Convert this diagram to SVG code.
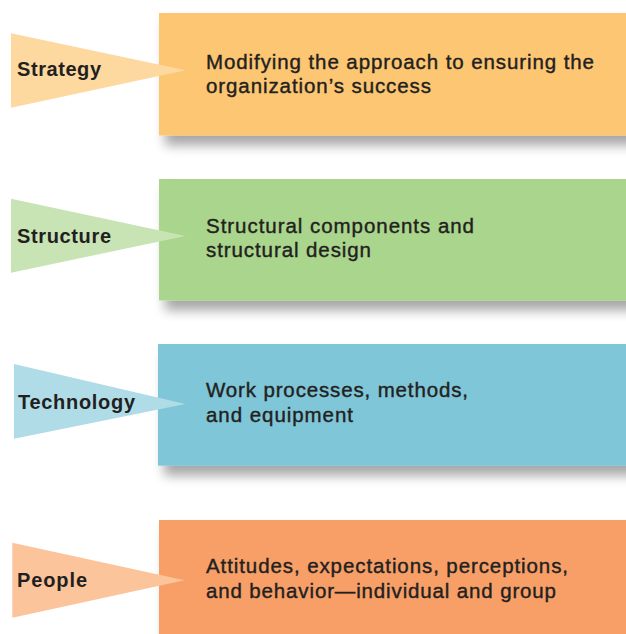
<svg xmlns="http://www.w3.org/2000/svg" width="626" height="634" viewBox="0 0 626 634">
<defs>
<filter id="sh" x="-10%" y="-20%" width="130%" height="160%">
<feGaussianBlur in="SourceAlpha" stdDeviation="6"/>
<feOffset dx="6" dy="10" result="b"/>
<feComponentTransfer><feFuncA type="linear" slope="0.35"/></feComponentTransfer>
<feMerge><feMergeNode/><feMergeNode in="SourceGraphic"/></feMerge>
</filter>
<style>
.lbl{font-family:"Liberation Sans",Arial,Helvetica,sans-serif;font-weight:bold;font-size:20px;fill:#231f20}
.txt{font-family:"Liberation Sans",Arial,Helvetica,sans-serif;font-size:20.5px;fill:#231f20;stroke:#231f20;stroke-width:0.4}
</style>
</defs>
<rect width="626" height="634" fill="#ffffff"/>
<g id="strategy">
<rect x="159" y="13" width="480" height="122.5" fill="#FDC673" filter="url(#sh)"/>
<polygon points="11,33.3 185.7,70.3 11,107.7" fill="#FDD9A0"/>
<text class="lbl" x="17" y="76" textLength="84" lengthAdjust="spacing">Strategy</text>
<text class="txt" x="206" y="68.5" textLength="388" lengthAdjust="spacing">Modifying the approach to ensuring the</text>
<text class="txt" x="206" y="92.5" textLength="225" lengthAdjust="spacing">organization’s success</text>
</g>
<g id="structure">
<rect x="159" y="179" width="480" height="121.5" fill="#AAD58C" filter="url(#sh)"/>
<polygon points="11,198.7 185.5,236 11,272.7" fill="#C8E3B4"/>
<text class="lbl" x="17" y="242.7" textLength="94" lengthAdjust="spacing">Structure</text>
<text class="txt" x="206" y="232.5" textLength="268" lengthAdjust="spacing">Structural components and</text>
<text class="txt" x="206" y="256.5" textLength="165" lengthAdjust="spacing">structural design</text>
</g>
<g id="technology">
<rect x="158" y="344" width="481" height="121.7" fill="#7EC6D8" filter="url(#sh)"/>
<polygon points="14,364 185.5,404 14,438.7" fill="#B0DCE7"/>
<text class="lbl" x="18" y="409.3" textLength="117" lengthAdjust="spacing">Technology</text>
<text class="txt" x="206" y="396.7" textLength="262" lengthAdjust="spacing">Work processes, methods,</text>
<text class="txt" x="206" y="421.7" textLength="147" lengthAdjust="spacing">and equipment</text>
</g>
<g id="people">
<rect x="159" y="520" width="480" height="130" fill="#F89F67" filter="url(#sh)"/>
<polygon points="12.3,542.7 184.5,580.3 12.3,617.7" fill="#FBC49B"/>
<text class="lbl" x="17" y="587.3" textLength="70" lengthAdjust="spacing">People</text>
<text class="txt" x="206" y="573.3" textLength="362" lengthAdjust="spacing">Attitudes, expectations, perceptions,</text>
<text class="txt" x="206" y="598" textLength="350" lengthAdjust="spacing">and behavior—individual and group</text>
</g>
<g id="connectors"/>
</svg>
